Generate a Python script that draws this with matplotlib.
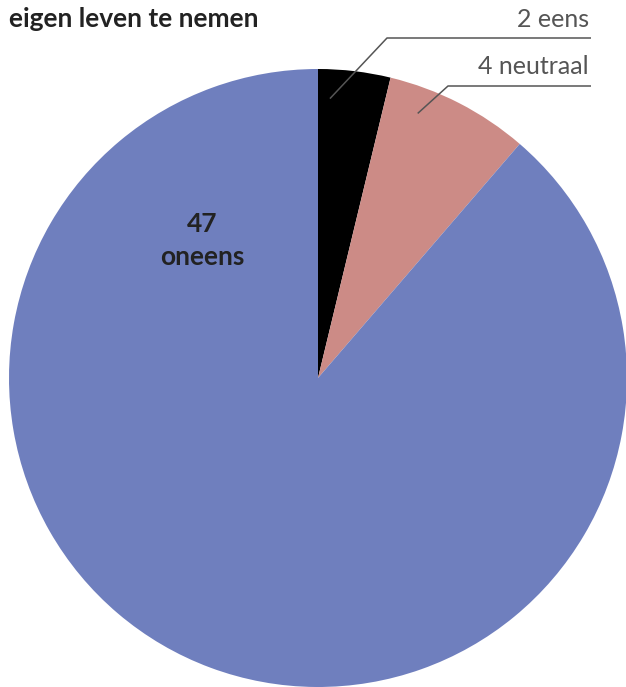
import matplotlib
matplotlib.use('Agg')
import matplotlib.pyplot as plt
import numpy as np

# Data
categories = ['eens', 'neutraal', 'oneens']
counts = [2, 4, 47]
colors = ['#000000', '#CC8B86', '#6F7FBE']
title = 'eigen leven te nemen'

W, H = 626, 687
fig = plt.figure(figsize=(W / 100, H / 100), dpi=100)
fig.patch.set_facecolor('white')

# pie geometry in pixels
cx, cy, R = 318, 378, 309
ax = fig.add_axes([(cx - R) / W, (H - cy - R) / H, 2 * R / W, 2 * R / H])
wedges, _ = ax.pie(counts, colors=colors, startangle=90, counterclock=False,
                   radius=1, wedgeprops=dict(linewidth=0))
ax.set_xlim(-1, 1)
ax.set_ylim(-1, 1)
ax.set_aspect('auto')
ax.axis('off')
for w in wedges:
    w.set_clip_on(False)

# overlay in pixel coordinates (origin top-left)
ov = fig.add_axes([0, 0, 1, 1])
ov.set_xlim(0, W)
ov.set_ylim(H, 0)
ov.axis('off')
ov.patch.set_alpha(0)

text_col = '#222222'
line_col = '#555555'

ov.text(9, 27, title, fontsize=19, fontweight='bold', color=text_col,
        family='Lato', ha='left', va='baseline')

# callout labels for small slices
label_y = [27, 74]
line_y = [38, 86]
elbow_x = [387, 448]
anchor_frac = [0.18, 0.26]
anchor_r = [0.905, 0.915]
for i in range(2):
    w = wedges[i]
    t1, t2 = min(w.theta1, w.theta2), max(w.theta1, w.theta2)
    ang = np.deg2rad(t2 - anchor_frac[i] * (t2 - t1))
    ax_px = cx + anchor_r[i] * R * np.cos(ang)
    ay_px = cy - anchor_r[i] * R * np.sin(ang)
    ov.plot([ax_px, elbow_x[i], 591], [ay_px, line_y[i], line_y[i]],
            color=line_col, linewidth=1.1, solid_capstyle='butt')
    ov.text(589, label_y[i], f'{counts[i]} {categories[i]}', fontsize=18,
            fontweight='normal', color='#555555', family='Lato',
            ha='right', va='baseline')

# inside label for the big slice
ov.text(202, 232, str(counts[2]), fontsize=19, fontweight='bold',
        color=text_col, family='Lato', ha='center', va='baseline')
ov.text(202, 265, categories[2], fontsize=19, fontweight='bold',
        color=text_col, family='Lato', ha='center', va='baseline')

fig.savefig('out.png', dpi=100, facecolor='white')
